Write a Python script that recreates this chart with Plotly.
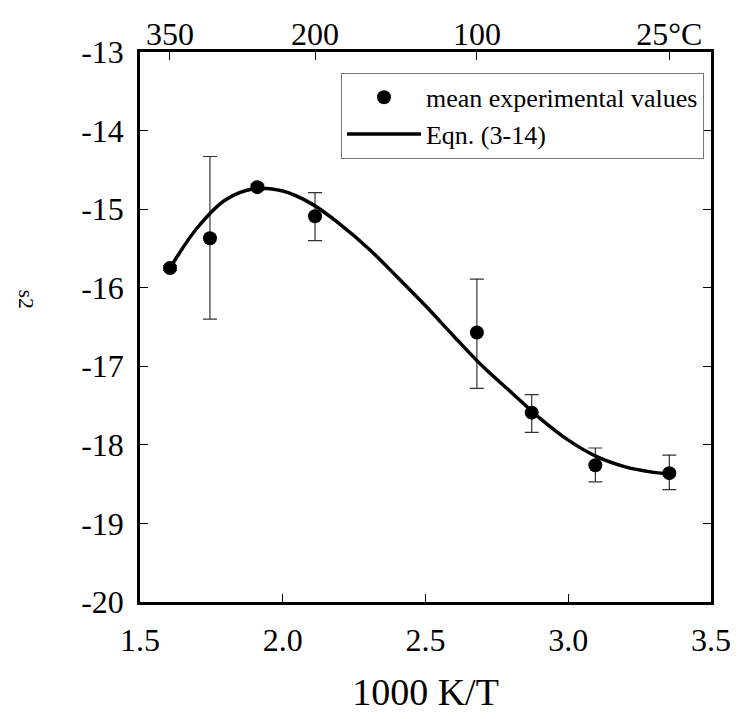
import plotly.graph_objects as go

# mean experimental values
x_pts = [1.605, 1.745, 1.911, 2.113, 2.680, 2.872, 3.095, 3.354]
y_pts = [-15.75, -15.37, -14.72, -15.09, -16.57, -17.59, -18.26, -18.36]
err_up = [0.03, 1.04, 0.04, 0.30, 0.68, 0.23, 0.22, 0.23]
err_down = [0.03, 1.03, 0.04, 0.31, 0.71, 0.25, 0.21, 0.21]

# Eqn. (3-14) curve
curve_x = [1.605, 1.70, 1.80, 1.90, 2.00, 2.10, 2.20, 2.30, 2.40, 2.50,
           2.60, 2.70, 2.80, 2.90, 3.00, 3.10, 3.20, 3.30, 3.354]
curve_y = [-15.75, -15.24, -14.88, -14.74, -14.77, -14.93, -15.19, -15.50, -15.86, -16.23,
           -16.62, -17.00, -17.33, -17.66, -17.94, -18.15, -18.28, -18.35, -18.37]

# axes ticks
x_ticks = [1.5, 2.0, 2.5, 3.0, 3.5]
x_tick_labels = ["1.5", "2.0", "2.5", "3.0", "3.5"]
y_ticks = [-20, -19, -18, -17, -16, -15, -14, -13]
y_tick_labels = ["-20", "-19", "-18", "-17", "-16", "-15", "-14", "-13"]
top_ticks = [1.605, 2.113, 2.680, 3.354]
top_tick_labels = ["350", "200", "100", "25°C"]

FONT = "Liberation Serif, Times New Roman, serif"

fig = go.Figure()
fig.add_trace(go.Scatter(
    x=x_pts, y=y_pts, mode="markers", name="mean experimental values",
    marker=dict(color="black", size=14),
    error_y=dict(type="data", symmetric=False, array=err_up, arrayminus=err_down,
                 color="#333333", thickness=1.2, width=7),
))
fig.add_trace(go.Scatter(
    x=curve_x, y=curve_y, mode="lines", name="Eqn. (3-14)",
    line=dict(color="black", width=3.5, shape="spline", smoothing=1.0),
))
# invisible trace for top axis
fig.add_trace(go.Scatter(x=[1.5, 3.5], y=[-20, -20], xaxis="x2", mode="markers",
                         marker=dict(opacity=0), showlegend=False, hoverinfo="skip"))

fig.update_layout(
    width=743, height=719,
    margin=dict(l=140, r=27, t=52, b=116),
    paper_bgcolor="white", plot_bgcolor="white",
    font=dict(family=FONT, color="black", size=32),
    showlegend=True,
    legend=dict(x=0.352, y=0.962, xanchor="left", yanchor="top",
                bordercolor="#777777", borderwidth=1, bgcolor="white",
                font=dict(size=26, family=FONT), entrywidth=356, itemwidth=74,
                tracegroupgap=0),
    xaxis=dict(range=[1.5, 3.5], tickvals=x_ticks, ticktext=x_tick_labels,
               ticks="inside", ticklen=8, tickwidth=1.2, tickcolor="black",
               showline=True, linecolor="black", linewidth=2.5, mirror=True,
               showgrid=False, zeroline=False, ticklabelstandoff=8,
               title=dict(text="1000 K/T", font=dict(size=38), standoff=22),
               tickfont=dict(size=32)),
    xaxis2=dict(range=[1.5, 3.5], overlaying="x", side="top", tickvals=top_ticks,
                ticktext=top_tick_labels, ticks="inside", ticklen=8, tickwidth=1.2,
                tickcolor="black", showgrid=False, zeroline=False, showline=False,
                ticklabelstandoff=0, tickfont=dict(size=32)),
    yaxis=dict(range=[-20, -13], tickvals=y_ticks, ticktext=y_tick_labels,
               ticks="inside", ticklen=8, tickwidth=1.2, tickcolor="black",
               showline=True, linecolor="black", linewidth=2.5, mirror="ticks",
               showgrid=False, zeroline=False, ticklabelstandoff=7,
               tickfont=dict(size=32)),
    annotations=[dict(text="s2", x=(25 - 140) / 576, y=(603 - 300) / 551,
                      xref="paper", yref="paper", xanchor="center", yanchor="middle",
                      showarrow=False, textangle=90, font=dict(size=22, family=FONT))],
)

fig.write_html("out.html")
